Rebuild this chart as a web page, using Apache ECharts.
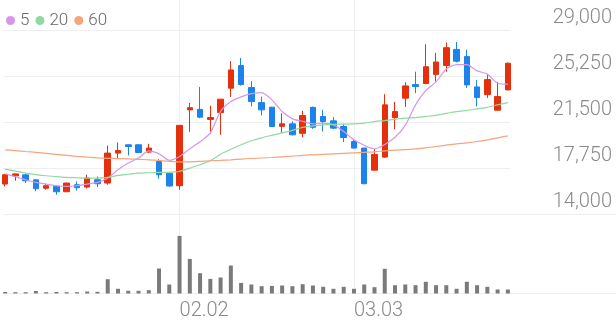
<!DOCTYPE html>
<html>
<head>
<meta charset="utf-8">
<script src="https://cdn.jsdelivr.net/npm/echarts@6/dist/echarts.min.js"></script>
<style>
html,body{margin:0;padding:0;background:#fff;}
#chart{width:616px;height:321px;}
</style>
</head>
<body>
<div id="chart"></div>
<script>
const dates = ['01.08','01.09','01.12','01.13','01.14','01.15','01.16','01.19','01.20','01.21',
  '01.22','01.23','01.26','01.27','01.28','01.29','01.30','02.02','02.03','02.04',
  '02.05','02.06','02.09','02.10','02.11','02.12','02.13','02.19','02.20','02.23',
  '02.24','02.25','02.26','02.27','03.03','03.04','03.05','03.06','03.09','03.10',
  '03.11','03.12','03.13','03.16','03.17','03.18','03.19','03.20','03.23','03.24'];
const openP = [16442,17110,17190,16784,16100,16263,15815,16385,16198,16792,
  16523,18965,19641,19641,19047,18282,17321,16304,22488,22531,
  21709,22270,24257,26104,24306,23084,22710,21147,21350,20577,
  22693,21945,21595,21131,19910,19373,17574,18640,21855,23442,
  24550,24640,25380,26104,27420,26830,24362,23735,22464,24118];
const closeP = [17199,17270,16710,16060,16304,15815,16523,16141,16930,16466,
  18965,19177,19503,19014,19373,17199,16279,21228,22667,21896,
  21863,23361,25746,24550,23166,22489,21131,21350,20455,22026,
  21065,21538,21000,20235,19373,16466,18851,22897,22350,24444,
  24387,26007,26390,27560,26456,24525,23492,24957,23573,26292];
const lowP = [16247,16710,16520,15856,15978,15571,15790,15921,16084,16198,
  16385,18558,18770,18990,18965,16873,16247,15978,20699,21814,
  20536,20455,23541,24468,22775,22042,21106,20618,20414,20251,
  20943,20724,20919,19861,19356,16442,17566,18583,20903,22734,
  23850,24583,24805,25600,26356,24281,22775,23467,22408,24078];
const highP = [17280,17290,17250,16800,16466,16344,16548,16654,17199,17060,
  19584,19828,19660,19682,19722,18477,17362,21250,23058,24362,
  22815,23378,26470,26723,24826,23573,22734,22205,21554,22408,
  22758,22490,21896,21326,20129,19397,19316,23768,23140,24737,
  25600,27838,27130,27976,28025,27374,24908,25364,24770,26356];
const volume = [15000,13000,13000,25000,13000,15000,13000,13000,20000,17000,
  143000,47000,27000,27000,33000,250000,90000,576000,346000,203000,
  146000,160000,280000,106000,90000,73000,76000,80000,73000,93000,
  80000,67000,47000,67000,47000,90000,63000,247000,83000,90000,
  83000,117000,83000,83000,47000,117000,83000,67000,40000,40000];
const ma5 = [17280,17036,16792,16572,16442,16304,16247,16304,16442,16572,
  16930,17606,18151,18558,19153,18908,18379,18689,19315,19885,
  20618,22368,23166,23548,23809,23898,23304,22352,21757,21554,
  21350,21407,21269,20724,20048,19600,19315,19665,20252,21228,
  22897,24077,24769,25827,26177,26177,25665,25404,24663,24582];
const ma20 = [17663,17500,17337,17215,17118,17053,16979,16955,16930,16930,
  16979,17142,17240,17337,17362,17386,17403,17468,17744,18013,
  18339,18868,19275,19641,19967,20211,20414,20618,20821,21066,
  21188,21269,21310,21326,21350,21407,21538,21619,21717,21814,
  21855,21961,22042,22205,22352,22449,22571,22694,22897,23084];
const ma60 = [19234,19169,19096,19031,18949,18868,18786,18705,18640,18583,
  18542,18518,18501,18461,18420,18363,18298,18257,18257,18298,
  18339,18379,18420,18477,18526,18567,18607,18664,18721,18786,
  18827,18868,18908,18949,18990,19031,19071,19153,19210,19250,
  19315,19397,19503,19617,19722,19804,19910,20048,20211,20374];
const priceTicks = [14000, 17750, 21500, 25250, 29000];
const monthLabels = ['02.02', '03.03'];

const candleData = dates.map((d, i) => [openP[i], closeP[i], lowP[i], highP[i]]);
const UP = '#e5300e', DOWN = '#1c82ec';
const LINE = '#efefef';
const pMin = priceTicks[0], pMax = priceTicks[priceTicks.length - 1];
const pInt = priceTicks[1] - priceTicks[0];

const chart = echarts.init(document.getElementById('chart'), null, {renderer: 'canvas'});
chart.setOption({
  animation: false,
  backgroundColor: '#fff',
  textStyle: {fontFamily: 'Roboto'},
  legend: {
    data: ['5', '20', '60'],
    left: 1, top: 7,
    icon: 'circle', itemWidth: 9, itemHeight: 9, itemGap: 6,
    textStyle: {fontSize: 17, color: '#666', fontWeight: 300, fontFamily: 'Roboto'}
  },
  grid: [
    {left: 0, width: 513, top: 30, height: 184},
    {left: 0, width: 513, top: 214, height: 79.5},
    {left: 3, width: 507, top: 30, height: 184},
    {left: 3, right: 0, top: 214, height: 79.5},
    {left: 5.13, width: 502.74, top: 0, height: 293.5}
  ],
  xAxis: [
    {gridIndex: 0, type: 'category', data: dates, boundaryGap: true, show: false},
    {gridIndex: 1, type: 'category', data: dates, boundaryGap: true, show: false},
    {gridIndex: 2, type: 'category', data: dates, show: false},
    {gridIndex: 3, type: 'category', data: dates, show: false},
    {gridIndex: 4, type: 'category', data: dates, boundaryGap: false,
      axisLine: {show: false}, axisTick: {show: false},
      axisLabel: {
        interval: (i, v) => monthLabels.indexOf(v) >= 0,
        align: 'left', margin: 8, fontSize: 20, color: '#8a8a8a', fontWeight: 300, fontFamily: 'Roboto'
      },
      splitLine: {show: true, interval: (i, v) => monthLabels.indexOf(v) >= 0,
        lineStyle: {color: LINE, width: 1}}
    }
  ],
  yAxis: [
    {gridIndex: 0, type: 'value', min: pMin, max: pMax, show: false},
    {gridIndex: 1, type: 'value', min: 0, max: 795000, show: false},
    {gridIndex: 2, type: 'value', min: pMin, max: pMax, interval: pInt, position: 'right',
      axisLine: {show: false}, axisTick: {show: false},
      splitLine: {show: true, lineStyle: {color: LINE, width: 1}},
      axisLabel: {
        align: 'right', margin: 102, verticalAlign: 'bottom', padding: [0, 0, 2, 0],
        fontSize: 20, color: '#8a8a8a', fontWeight: 300, fontFamily: 'Roboto',
        formatter: v => v.toLocaleString('en-US')
      }
    },
    {gridIndex: 3, type: 'value', min: 0, max: 1, interval: 1,
      axisLine: {show: false}, axisTick: {show: false}, axisLabel: {show: false},
      splitLine: {show: true, lineStyle: {color: LINE, width: 1}}
    },
    {gridIndex: 4, type: 'value', min: 0, max: 1, show: false}
  ],
  series: [
    {
      type: 'candlestick', name: 'price', xAxisIndex: 0, yAxisIndex: 0,
      data: candleData, barWidth: 6,
      itemStyle: {color: UP, color0: DOWN, borderColor: UP, borderColor0: DOWN, borderWidth: 1}
    },
    {name: '5', type: 'line', xAxisIndex: 0, yAxisIndex: 0, data: ma5, symbol: 'none',
      smooth: 0.25, lineStyle: {width: 1.2, color: '#d597ea'}, itemStyle: {color: '#d597ea'}},
    {name: '20', type: 'line', xAxisIndex: 0, yAxisIndex: 0, data: ma20, symbol: 'none',
      smooth: 0.25, lineStyle: {width: 1.2, color: '#8fd9a2'}, itemStyle: {color: '#8fd9a2'}},
    {name: '60', type: 'line', xAxisIndex: 0, yAxisIndex: 0, data: ma60, symbol: 'none',
      smooth: 0.25, lineStyle: {width: 1.2, color: '#f6a47c'}, itemStyle: {color: '#f6a47c'}},
    {
      type: 'bar', name: 'vol', xAxisIndex: 1, yAxisIndex: 1, data: volume, barWidth: 4,
      itemStyle: {color: '#7a7a7a'}
    }
  ]
});
</script>
</body>
</html>
